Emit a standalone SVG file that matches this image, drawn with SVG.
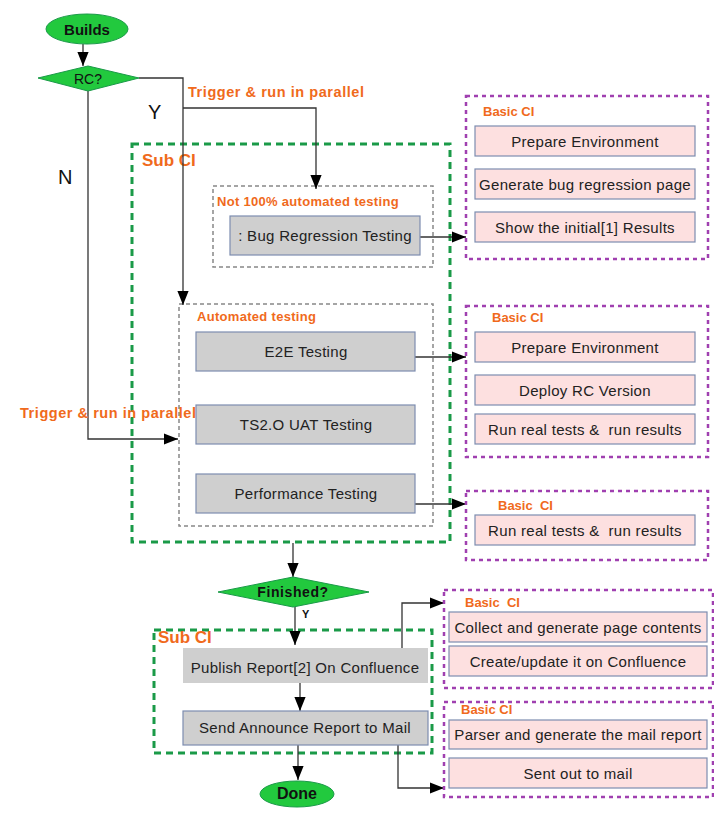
<svg xmlns="http://www.w3.org/2000/svg" width="714" height="822" viewBox="0 0 714 822">
<style>
text{font-family:"Liberation Sans",Arial,sans-serif}
.or{fill:#f06a1c;font-weight:bold}
.sub{font-size:17px}
.lbl{font-size:13px}
.tr{font-size:14.5px;letter-spacing:0.55px}
.bt{font-size:15px;fill:#222;text-anchor:middle;letter-spacing:0.3px}
.gray{fill:#cfcfcf;stroke:#7d8db0;stroke-width:1.2}
.pink{fill:#fde0e0;stroke:#7d8db0;stroke-width:1.2}
.gd{fill:none;stroke:#1a9a48;stroke-width:3;stroke-dasharray:7,5}
.pd{fill:none;stroke:#a040b0;stroke-width:2.5;stroke-dasharray:4,4}
.kd{fill:none;stroke:#888;stroke-width:1.5;stroke-dasharray:4,3}
.gr{fill:#22c93e;stroke:#1a9a48;stroke-width:1}
.ln{fill:none;stroke:#333;stroke-width:1.3}
</style>
<defs>
<marker id="ahb" viewBox="0 0 10 10" refX="10" refY="5" markerWidth="14" markerHeight="14" markerUnits="userSpaceOnUse" orient="auto">
<path d="M0,1 L10,5 L0,9 z" fill="#000"/>
</marker>
</defs>

<g id="containers">
<rect id="subci1" class="gd" x="132" y="144" width="318" height="398"/>
<text class="or sub" x="142" y="166">Sub CI</text>
<rect id="not100" class="kd" x="213" y="186" width="220" height="81"/>
<text class="or lbl" x="217" y="206" letter-spacing="0.3">Not 100% automated testing</text>
<rect id="auto" class="kd" x="179" y="304" width="254" height="222"/>
<text class="or lbl" x="197" y="321" letter-spacing="0.3">Automated testing</text>
<rect id="subci2" class="gd" x="154" y="630" width="278" height="123"/>
<text class="or sub" x="158" y="643">Sub CI</text>
</g>

<g id="connectors">
<line class="ln" x1="83" y1="44" x2="83" y2="66" marker-end="url(#ahb)"/>
<polyline class="ln" points="139,78 183,78 183,305" marker-end="url(#ahb)"/>
<polyline class="ln" points="183,108 316,108 316,189" marker-end="url(#ahb)"/>
<polyline class="ln" points="88,91 88,439 178,439" marker-end="url(#ahb)"/>
<line class="ln" x1="420" y1="237" x2="466" y2="237" marker-end="url(#ahb)"/>
<line class="ln" x1="415" y1="357" x2="466" y2="357" marker-end="url(#ahb)"/>
<line class="ln" x1="415" y1="504" x2="466" y2="504" marker-end="url(#ahb)"/>
<line class="ln" x1="293" y1="543" x2="293" y2="577" marker-end="url(#ahb)"/>
<line class="ln" x1="295" y1="607" x2="295" y2="645" marker-end="url(#ahb)"/>
<line class="ln" x1="300" y1="683" x2="300" y2="711" marker-end="url(#ahb)"/>
<line class="ln" x1="298" y1="745" x2="298" y2="780" marker-end="url(#ahb)"/>
<polyline class="ln" points="402,648 402,603 444,603" marker-end="url(#ahb)"/>
<polyline class="ln" points="398,745 398,788 444,788" marker-end="url(#ahb)"/>
<text class="or tr" x="188" y="97">Trigger &amp; run in parallel</text>
<text class="or tr" x="20" y="418">Trigger &amp; run in parallel</text>
<text x="148" y="119" font-size="20" fill="#111">Y</text>
<text x="58" y="184" font-size="20" fill="#111">N</text>
<text x="302" y="618" font-size="11" font-weight="bold" fill="#111">Y</text>
</g>

<g id="builds">
<ellipse class="gr" cx="87" cy="29" rx="41" ry="15"/>
<text x="87" y="35" font-size="15" font-weight="bold" text-anchor="middle" fill="#111">Builds</text>
</g>
<g id="rc">
<polygon class="gr" points="38,78 88,66 139,78 88,91"/>
<text x="88" y="84" font-size="14" text-anchor="middle" fill="#111">RC?</text>
</g>

<g id="bugreg">
<rect class="gray" x="230" y="216" width="190" height="39"/>
<text class="bt" x="325" y="241">: Bug Regression Testing</text>
</g>
<g id="e2e">
<rect class="gray" x="196" y="332" width="219" height="39"/>
<text class="bt" x="306" y="357">E2E Testing</text>
</g>
<g id="uat">
<rect class="gray" x="196" y="405" width="219" height="39"/>
<text class="bt" x="306" y="430">TS2.O UAT Testing</text>
</g>
<g id="perf">
<rect class="gray" x="196" y="474" width="219" height="39"/>
<text class="bt" x="306" y="499">Performance Testing</text>
</g>

<g id="basic1">
<rect class="pd" x="466" y="96" width="242" height="163"/>
<text class="or lbl" x="483" y="116">Basic CI</text>
<rect class="pink" x="475" y="126" width="220" height="30"/>
<text class="bt" x="585" y="147">Prepare Environment</text>
<rect class="pink" x="475" y="169" width="220" height="30"/>
<text class="bt" x="585" y="190">Generate bug regression page</text>
<rect class="pink" x="475" y="212" width="220" height="30"/>
<text class="bt" x="585" y="233">Show the initial[1] Results</text>
</g>

<g id="basic2">
<rect class="pd" x="466" y="306" width="242" height="151"/>
<text class="or lbl" x="492" y="322">Basic CI</text>
<rect class="pink" x="475" y="332" width="220" height="30"/>
<text class="bt" x="585" y="353">Prepare Environment</text>
<rect class="pink" x="475" y="375" width="220" height="30"/>
<text class="bt" x="585" y="396">Deploy RC Version</text>
<rect class="pink" x="475" y="414" width="220" height="30"/>
<text class="bt" x="585" y="435" xml:space="preserve">Run real tests &amp;  run results</text>
</g>

<g id="basic3">
<rect class="pd" x="466" y="491" width="242" height="69"/>
<text class="or lbl" x="498" y="510" xml:space="preserve">Basic  CI</text>
<rect class="pink" x="475" y="515" width="220" height="30"/>
<text class="bt" x="585" y="536" xml:space="preserve">Run real tests &amp;  run results</text>
</g>

<g id="finished">
<polygon class="gr" points="218,592 293,577 369,592 293,607"/>
<text x="293" y="597" font-size="14" font-weight="bold" letter-spacing="0.6" text-anchor="middle" fill="#111">Finished?</text>
</g>

<g id="publish">
<rect x="183" y="648" width="245" height="35" fill="#cfcfcf"/>
<text class="bt" x="305" y="673">Publish Report[2] On Confluence</text>
</g>
<g id="send">
<rect class="gray" x="183" y="711" width="245" height="34"/>
<text class="bt" x="305" y="733">Send Announce Report to Mail</text>
</g>
<g id="done">
<ellipse class="gr" cx="297" cy="794" rx="37" ry="13"/>
<text x="297" y="799" font-size="16" font-weight="bold" text-anchor="middle" fill="#111">Done</text>
</g>

<g id="basic4">
<rect class="pd" x="444" y="590" width="269" height="98"/>
<text class="or lbl" x="465" y="607" xml:space="preserve">Basic  CI</text>
<rect class="pink" x="449" y="612" width="258" height="30"/>
<text class="bt" x="578" y="633">Collect and generate page contents</text>
<rect class="pink" x="449" y="646" width="258" height="30"/>
<text class="bt" x="578" y="667">Create/update it on Confluence</text>
</g>

<g id="basic5">
<rect class="pd" x="444" y="702" width="269" height="95"/>
<text class="or lbl" x="461" y="714">Basic CI</text>
<rect class="pink" x="449" y="720" width="258" height="29"/>
<text class="bt" x="578" y="740">Parser and generate the mail report</text>
<rect class="pink" x="449" y="758" width="258" height="30"/>
<text class="bt" x="578" y="779">Sent out to mail</text>
</g>
</svg>
